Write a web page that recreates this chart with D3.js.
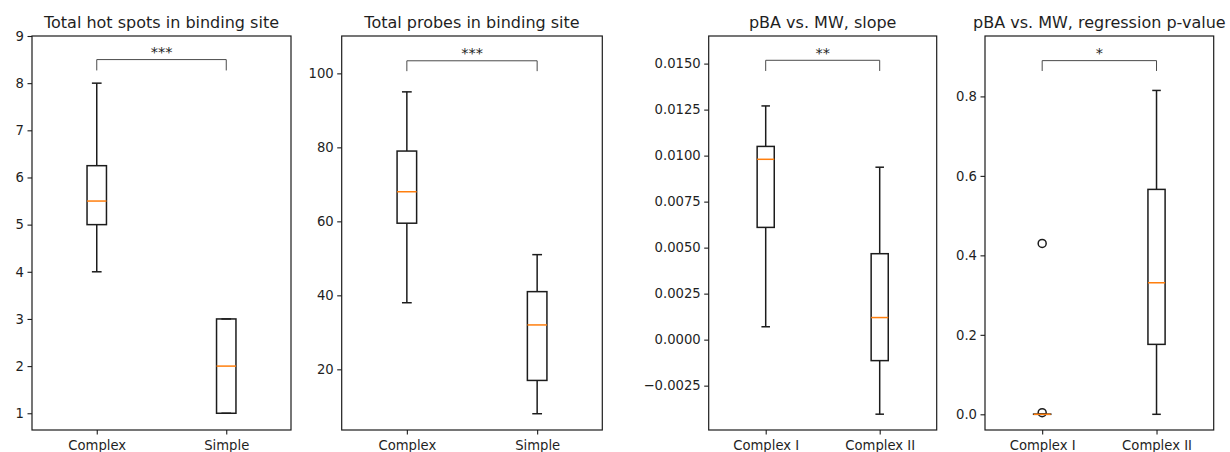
<!DOCTYPE html>
<html>
<head>
<meta charset="utf-8">
<script src="https://cdn.jsdelivr.net/npm/d3@7"></script>
<style>
  body { margin: 0; background: #fff; }
  svg { display: block; }
  text { font-family: "DejaVu Sans", sans-serif; fill: #1f1f1f; }
</style>
</head>
<body>
<svg id="chart" width="1230" height="452"></svg>
<script>
// Box-plot statistics for each panel: [first group, second group]
const panelTitles = [
  "Total hot spots in binding site",
  "Total probes in binding site",
  "pBA vs. MW, slope",
  "pBA vs. MW, regression p-value"
];
const groupLabels = [
  ["Complex", "Simple"],
  ["Complex", "Simple"],
  ["Complex I", "Complex II"],
  ["Complex I", "Complex II"]
];
const whiskerLow  = [[4, 1], [38, 8], [0.0007, -0.00405], [0, 0]];
const boxQ1       = [[5, 1], [59.5, 17], [0.0061, -0.00114], [0, 0.176]];
const medians     = [[5.5, 2], [68, 32], [0.0098, 0.0012], [0, 0.331]];
const boxQ3       = [[6.25, 3], [79, 41], [0.0105, 0.00467], [0.0005, 0.566]];
const whiskerHigh = [[8, 3], [95, 51], [0.0127, 0.00937], [0.0005, 0.815]];
const outliers    = [[[], []], [[], []], [[], []], [[0.43, 0.004], []]];

// Significance brackets between the two groups
const significance = ["***", "***", "**", "*"];
const bracketLevel = [8.5, 103.4, 0.01518, 0.89];
const bracketFoot  = [8.27, 100.6, 0.0146, 0.864];

// Axis ticks and limits
const yTickValues = [
  [1, 2, 3, 4, 5, 6, 7, 8, 9],
  [20, 40, 60, 80, 100],
  [-0.0025, 0, 0.0025, 0.005, 0.0075, 0.01, 0.0125, 0.015],
  [0, 0.2, 0.4, 0.6, 0.8]
];
const yTickFormats = ["d", "d", ".4f", ".1f"];
const yLimits = [[0.645, 9], [3.6, 110.1], [-0.00491, 0.0165], [-0.0395, 0.952]];

// Layout of the four axes frames
const frames = [
  { left: 32, right: 291 },
  { left: 341.7, right: 602.3 },
  { left: 708.7, right: 936.7 },
  { left: 985, right: 1213.7 }
];
const frameTop = 36, frameBottom = 430;
const boxWidth = 0.15;          // in group-position units
const lineColor = "#1c1c1c";
const medianColor = "#ff7f0e";

const svg = d3.select("#chart");

panelTitles.forEach((title, p) => {
  const f = frames[p];
  const g = svg.append("g");

  const x = d3.scaleLinear().domain([0.5, 2.5]).range([f.left, f.right]);
  const y = d3.scaleLinear().domain(yLimits[p]).range([frameBottom, frameTop]);

  // y axis
  const yAxis = d3.axisLeft(y)
    .tickValues(yTickValues[p])
    .tickFormat(d3.format(yTickFormats[p]))
    .tickSize(4.5).tickPadding(3.5).tickSizeOuter(0);
  const ya = g.append("g").attr("transform", `translate(${f.left},0)`).call(yAxis);
  ya.select(".domain").remove();

  // x axis
  const xAxis = d3.axisBottom(x)
    .tickValues([1, 2])
    .tickFormat((d, i) => groupLabels[p][i])
    .tickSize(4.5).tickPadding(6).tickSizeOuter(0);
  const xa = g.append("g").attr("transform", `translate(0,${frameBottom})`).call(xAxis);
  xa.select(".domain").remove();

  [ya, xa].forEach(a => {
    a.selectAll(".tick line").attr("stroke", lineColor).attr("stroke-width", 1.1);
    a.selectAll(".tick text")
      .attr("fill", "#1f1f1f")
      .style("font-family", "DejaVu Sans")
      .style("font-size", "13.2px");
  });

  // frame
  g.append("rect")
    .attr("x", f.left).attr("y", frameTop)
    .attr("width", f.right - f.left).attr("height", frameBottom - frameTop)
    .attr("fill", "none").attr("stroke", lineColor).attr("stroke-width", 1.2);

  // title
  g.append("text")
    .attr("x", (f.left + f.right) / 2).attr("y", 28)
    .attr("text-anchor", "middle")
    .style("font-size", "16px")
    .text(title);

  // boxes
  [0, 1].forEach(i => {
    const cx = x(i + 1);
    const half = x(1 + boxWidth / 2) - x(1);
    const cap = half / 2;
    const bg = g.append("g")
      .attr("stroke", lineColor).attr("stroke-width", 1.5).attr("fill", "none");

    // whiskers
    bg.append("line").attr("x1", cx).attr("x2", cx)
      .attr("y1", y(boxQ1[p][i])).attr("y2", y(whiskerLow[p][i]));
    bg.append("line").attr("x1", cx).attr("x2", cx)
      .attr("y1", y(boxQ3[p][i])).attr("y2", y(whiskerHigh[p][i]));
    // caps
    bg.append("line").attr("x1", cx - cap).attr("x2", cx + cap)
      .attr("y1", y(whiskerLow[p][i])).attr("y2", y(whiskerLow[p][i]));
    bg.append("line").attr("x1", cx - cap).attr("x2", cx + cap)
      .attr("y1", y(whiskerHigh[p][i])).attr("y2", y(whiskerHigh[p][i]));
    // box
    bg.append("rect")
      .attr("x", cx - half).attr("width", 2 * half)
      .attr("y", y(boxQ3[p][i]))
      .attr("height", Math.max(0, y(boxQ1[p][i]) - y(boxQ3[p][i])));
    // outliers
    outliers[p][i].forEach(v => {
      bg.append("circle").attr("cx", cx).attr("cy", y(v)).attr("r", 4);
    });
    // median
    g.append("line")
      .attr("x1", cx - half).attr("x2", cx + half)
      .attr("y1", y(medians[p][i])).attr("y2", y(medians[p][i]))
      .attr("stroke", medianColor).attr("stroke-width", 1.5);
  });

  // significance bracket
  const bx1 = x(1), bx2 = x(2);
  g.append("path")
    .attr("d", `M${bx1},${y(bracketFoot[p])}V${y(bracketLevel[p])}H${bx2}V${y(bracketFoot[p])}`)
    .attr("fill", "none").attr("stroke", "#4a4a4a").attr("stroke-width", 1);
  g.append("text")
    .attr("x", (bx1 + bx2) / 2).attr("y", y(bracketLevel[p]) - 2.5)
    .attr("text-anchor", "middle")
    .style("font-size", "14.5px")
    .text(significance[p]);
});
</script>
</body>
</html>
